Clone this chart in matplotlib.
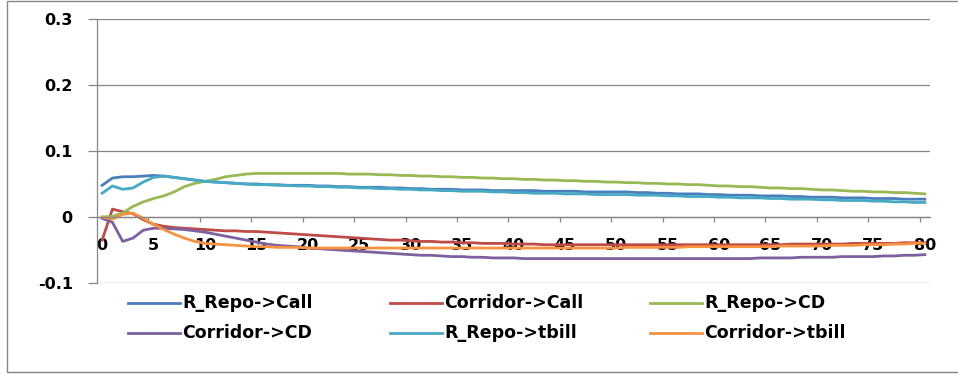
import matplotlib
matplotlib.use("Agg")
import matplotlib.pyplot as plt
from matplotlib.lines import Line2D
from matplotlib.patches import Rectangle

# periods after the shock
periods = list(range(81))

r_repo_call = [0.048, 0.059, 0.061, 0.061, 0.062, 0.063, 0.062, 0.060, 0.058, 0.056,
               0.054, 0.053, 0.052, 0.051, 0.050, 0.050, 0.049, 0.049, 0.048, 0.048,
               0.048, 0.047, 0.047, 0.046, 0.046, 0.045, 0.045, 0.045, 0.044, 0.044,
               0.043, 0.043, 0.042, 0.042, 0.042, 0.041, 0.041, 0.041, 0.040, 0.040,
               0.040, 0.040, 0.040, 0.039, 0.039, 0.039, 0.039, 0.038, 0.038, 0.038,
               0.038, 0.038, 0.037, 0.037, 0.036, 0.036, 0.035, 0.035, 0.035, 0.034,
               0.034, 0.033, 0.033, 0.033, 0.032, 0.032, 0.032, 0.031, 0.031, 0.030,
               0.030, 0.030, 0.029, 0.029, 0.029, 0.028, 0.028, 0.028, 0.027, 0.027,
               0.027]

corridor_call = [-0.035, 0.012, 0.008, 0.005, -0.004, -0.011, -0.014, -0.016, -0.017, -0.018,
                 -0.019, -0.020, -0.021, -0.021, -0.022, -0.022, -0.023, -0.024, -0.025, -0.026,
                 -0.027, -0.028, -0.029, -0.030, -0.031, -0.032, -0.033, -0.034, -0.035, -0.035,
                 -0.036, -0.037, -0.037, -0.038, -0.038, -0.039, -0.039, -0.040, -0.040, -0.040,
                 -0.041, -0.041, -0.041, -0.042, -0.042, -0.042, -0.042, -0.042, -0.042, -0.042,
                 -0.042, -0.042, -0.042, -0.042, -0.042, -0.042, -0.042, -0.042, -0.042, -0.042,
                 -0.042, -0.042, -0.042, -0.042, -0.042, -0.042, -0.042, -0.041, -0.041, -0.041,
                 -0.041, -0.041, -0.041, -0.040, -0.040, -0.040, -0.040, -0.040, -0.039, -0.039,
                 -0.039]

r_repo_cd = [0.000, 0.001, 0.006, 0.016, 0.023, 0.028, 0.032, 0.038, 0.046, 0.051,
             0.054, 0.057, 0.061, 0.063, 0.065, 0.066, 0.066, 0.066, 0.066, 0.066,
             0.066, 0.066, 0.066, 0.066, 0.065, 0.065, 0.065, 0.064, 0.064, 0.063,
             0.063, 0.062, 0.062, 0.061, 0.061, 0.060, 0.060, 0.059, 0.059, 0.058,
             0.058, 0.057, 0.057, 0.056, 0.056, 0.055, 0.055, 0.054, 0.054, 0.053,
             0.053, 0.052, 0.052, 0.051, 0.051, 0.050, 0.050, 0.049, 0.049, 0.048,
             0.047, 0.047, 0.046, 0.046, 0.045, 0.044, 0.044, 0.043, 0.043, 0.042,
             0.041, 0.041, 0.040, 0.039, 0.039, 0.038, 0.038, 0.037, 0.037, 0.036,
             0.035]

corridor_cd = [-0.002, -0.008, -0.037, -0.032, -0.020, -0.017, -0.017, -0.018, -0.019, -0.021,
               -0.023, -0.026, -0.029, -0.032, -0.035, -0.038, -0.041, -0.043, -0.044, -0.045,
               -0.047, -0.048, -0.049, -0.050, -0.051, -0.052, -0.053, -0.054, -0.055, -0.056,
               -0.057, -0.058, -0.058, -0.059, -0.060, -0.060, -0.061, -0.061, -0.062, -0.062,
               -0.062, -0.063, -0.063, -0.063, -0.063, -0.063, -0.063, -0.063, -0.063, -0.063,
               -0.063, -0.063, -0.063, -0.063, -0.063, -0.063, -0.063, -0.063, -0.063, -0.063,
               -0.063, -0.063, -0.063, -0.063, -0.062, -0.062, -0.062, -0.062, -0.061, -0.061,
               -0.061, -0.061, -0.060, -0.060, -0.060, -0.060, -0.059, -0.059, -0.058, -0.058,
               -0.057]

r_repo_tbill = [0.036, 0.047, 0.042, 0.044, 0.053, 0.060, 0.062, 0.060, 0.058, 0.056,
                0.054, 0.053, 0.052, 0.051, 0.050, 0.049, 0.049, 0.048, 0.048, 0.047,
                0.047, 0.046, 0.046, 0.045, 0.045, 0.044, 0.044, 0.043, 0.043, 0.042,
                0.042, 0.041, 0.041, 0.040, 0.040, 0.039, 0.039, 0.039, 0.038, 0.038,
                0.037, 0.037, 0.036, 0.036, 0.036, 0.035, 0.035, 0.035, 0.034, 0.034,
                0.034, 0.034, 0.033, 0.033, 0.033, 0.032, 0.032, 0.031, 0.031, 0.031,
                0.030, 0.030, 0.029, 0.029, 0.029, 0.028, 0.028, 0.027, 0.027, 0.027,
                0.026, 0.026, 0.025, 0.025, 0.025, 0.024, 0.024, 0.023, 0.023, 0.022,
                0.022]

corridor_tbill = [0.000, -0.003, 0.004, 0.006, -0.002, -0.011, -0.019, -0.026, -0.032, -0.037,
                  -0.040, -0.041, -0.042, -0.043, -0.044, -0.045, -0.045, -0.046, -0.046, -0.046,
                  -0.047, -0.047, -0.047, -0.047, -0.047, -0.047, -0.047, -0.047, -0.047, -0.047,
                  -0.047, -0.047, -0.047, -0.047, -0.047, -0.047, -0.047, -0.047, -0.047, -0.047,
                  -0.047, -0.047, -0.047, -0.047, -0.047, -0.047, -0.047, -0.047, -0.047, -0.047,
                  -0.047, -0.046, -0.046, -0.046, -0.046, -0.046, -0.046, -0.045, -0.045, -0.045,
                  -0.045, -0.045, -0.045, -0.045, -0.045, -0.045, -0.044, -0.044, -0.044, -0.044,
                  -0.044, -0.043, -0.043, -0.043, -0.042, -0.042, -0.042, -0.041, -0.041, -0.040,
                  -0.040]

series_names = ["R_Repo->Call", "Corridor->Call", "R_Repo->CD",
                "Corridor->CD", "R_Repo->tbill", "Corridor->tbill"]
series_values = [r_repo_call, corridor_call, r_repo_cd,
                 corridor_cd, r_repo_tbill, corridor_tbill]
colors = ["#4A7EBB", "#BE4B48", "#98B954", "#7D60A0", "#46AAC5", "#F69240"]

y_ticks = [-0.1, 0, 0.1, 0.2, 0.3]
y_labels = ["-0.1", "0", "0.1", "0.2", "0.3"]
x_ticks = list(range(0, 81, 5))

gray = "#868686"
W, H = 958, 374

fig = plt.figure(figsize=(W / 100, H / 100), dpi=100)
ax = fig.add_axes([97 / W, 1 - 283 / H, 833 / W, 264 / H])

lines = []
for name, vals, c in zip(series_names, series_values, colors):
    ln, = ax.plot(periods, vals, color=c, lw=2.0, label=name, solid_joinstyle="round")
    lines.append(ln)

ax.set_xlim(-0.5, 80.5)
ax.set_ylim(-0.1, 0.3)

# spines: value axis on the left, category axis crossing at zero
for s in ["top", "right"]:
    ax.spines[s].set_visible(False)
ax.spines["left"].set_color(gray)
ax.spines["bottom"].set_color(gray)
ax.spines["bottom"].set_position(("data", 0))
ax.spines["left"].set_linewidth(0.9)
ax.spines["bottom"].set_linewidth(0.9)

ax.set_yticks(y_ticks)
ax.set_yticklabels(y_labels)
ax.yaxis.grid(True, color=gray, lw=0.9)
ax.set_axisbelow(True)
ax.tick_params(axis="y", direction="out", length=6.5, width=0.9, color=gray, pad=11,
               labelsize=11.5)

# category labels centred on points, tick marks between categories
ax.set_xticks(x_ticks)
ax.set_xticks([t + 4.5 for t in x_ticks[:-1]], minor=True)
ax.tick_params(axis="x", which="major", length=0, pad=15, labelsize=11.5)
ax.tick_params(axis="x", which="minor", direction="out", length=3.6, width=0.9, color=gray)

for lbl in ax.get_xticklabels() + ax.get_yticklabels():
    lbl.set_fontweight("bold")

# legend laid out in two rows of three
col_x = [128, 390, 650]
row_y = [303, 333]
for i, ln in enumerate(lines):
    r, c = divmod(i, 3)
    x0 = col_x[c]
    y0 = 1 - row_y[r] / H
    fig.add_artist(Line2D([x0 / W, (x0 + 52) / W], [y0, y0], color=ln.get_color(),
                          lw=2.0, transform=fig.transFigure))
    fig.text((x0 + 54) / W, y0, ln.get_label(), fontsize=12.5, fontweight="bold",
             va="center", ha="left")

# chart area border
fig.add_artist(Rectangle((7 / W, 1 - 372 / H), 1.0, 371 / H, fill=False,
                         edgecolor=gray, lw=1.0, transform=fig.transFigure))

fig.savefig("out.png", dpi=100)
